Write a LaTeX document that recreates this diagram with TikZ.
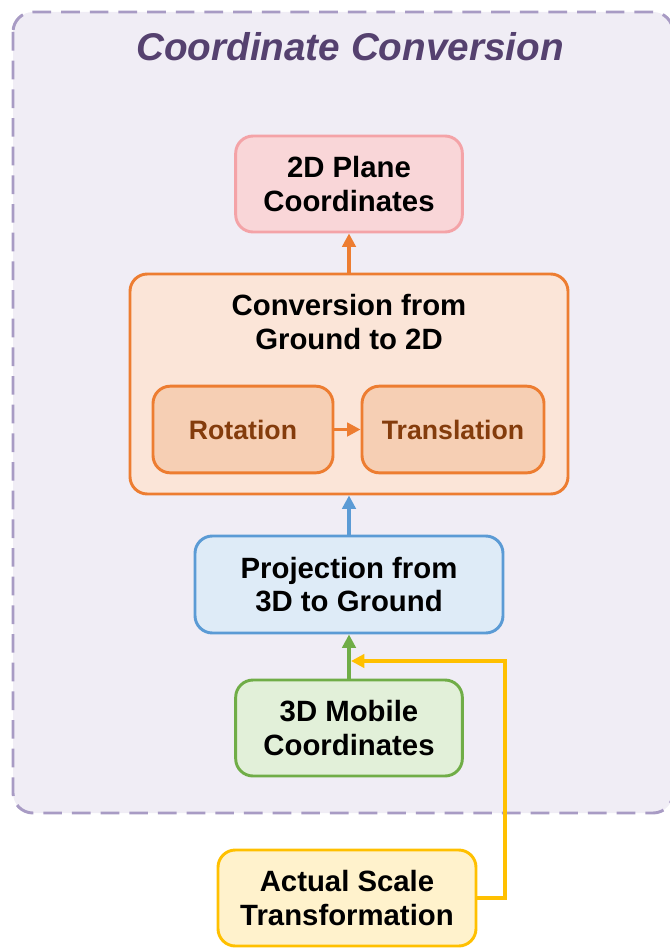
\documentclass[tikz,border=0pt]{standalone}
\usepackage{fontspec}
\setmainfont{Liberation Sans}
\usetikzlibrary{arrows.meta}
\definecolor{cborder}{HTML}{A89BC4}
\definecolor{cfill}{HTML}{F0EDF5}
\definecolor{ctitle}{HTML}{55416F}
\definecolor{pinkline}{HTML}{F4A3A7}
\definecolor{pinkfill}{HTML}{F9D6D8}
\definecolor{orline}{HTML}{ED7D31}
\definecolor{orfill}{HTML}{FBE5D8}
\definecolor{orinner}{HTML}{F6CFB4}
\definecolor{ortext}{HTML}{843C0C}
\definecolor{blline}{HTML}{5B9BD5}
\definecolor{blfill}{HTML}{DEEBF7}
\definecolor{grline}{HTML}{70AD47}
\definecolor{grfill}{HTML}{E2F0D9}
\definecolor{yeline}{HTML}{FFC000}
\definecolor{yefill}{HTML}{FFF2CC}
\begin{document}
\begin{tikzpicture}[x=0.75pt,y=-0.75pt,
  box/.style={rounded corners=13pt, line width=2.2pt, align=center,
    font=\bfseries\fontsize{22}{25}\selectfont, inner sep=0pt, text=black},
  link/.style={draw, line width=2.4pt, arrows={-Triangle[length=10pt,width=10pt]}}]
\useasboundingbox (0,0) rectangle (670,949);
% container
\draw[cborder, fill=cfill, line width=2.2pt, dash pattern=on 14pt off 7.5pt, rounded corners=15pt]
  (13,12) rectangle (673,813);
\node[text=ctitle, font=\bfseries\itshape\fontsize{29}{32}\selectfont] (title) at (350,47) {Coordinate Conversion};
% nodes
\node[box, draw=pinkline, fill=pinkfill, minimum width=170pt, minimum height=72pt] (plane) at (349,184) {2D Plane\\Coordinates};
\node[box, draw=orline, fill=orfill, minimum width=328.5pt, minimum height=165pt] (conv) at (349,384) {};
\node[align=center, font=\bfseries\fontsize{22}{25}\selectfont] (convtext) at (349,322) {Conversion from\\Ground to 2D};
\node[box, draw=orline, fill=orinner, minimum width=135pt, minimum height=65pt, text=ortext, font=\bfseries\fontsize{20}{23}\selectfont] (rot) at (243,429.5) {Rotation};
\node[box, draw=orline, fill=orinner, minimum width=136.5pt, minimum height=65pt, text=ortext, font=\bfseries\fontsize{20}{23}\selectfont] (trans) at (453,429.5) {Translation};
\node[box, draw=blline, fill=blfill, minimum width=231pt, minimum height=72.75pt] (proj) at (349,584.5) {Projection from\\3D to Ground};
\node[box, draw=grline, fill=grfill, minimum width=170pt, minimum height=72pt] (mob) at (349,728) {3D Mobile\\Coordinates};
\node[box, draw=yeline, fill=yefill, minimum width=193.5pt, minimum height=72pt] (act) at (347,898) {Actual Scale\\Transformation};
% connectors
\path[link, draw=orline, fill=orline] (conv.north) -- (plane.south);
\path[link, draw=orline, fill=orline] (rot.east) -- (trans.west);
\path[link, draw=blline, fill=blline] (proj.north) -- (conv.south);
\path[link, draw=grline, fill=grline] (mob.north) -- (proj.south);
\coordinate (bend) at (505,661);
\coordinate (join) at (351,661);
\path[link, draw=yeline] (act.east) -| (bend) -- (join);
\end{tikzpicture}
\end{document}
